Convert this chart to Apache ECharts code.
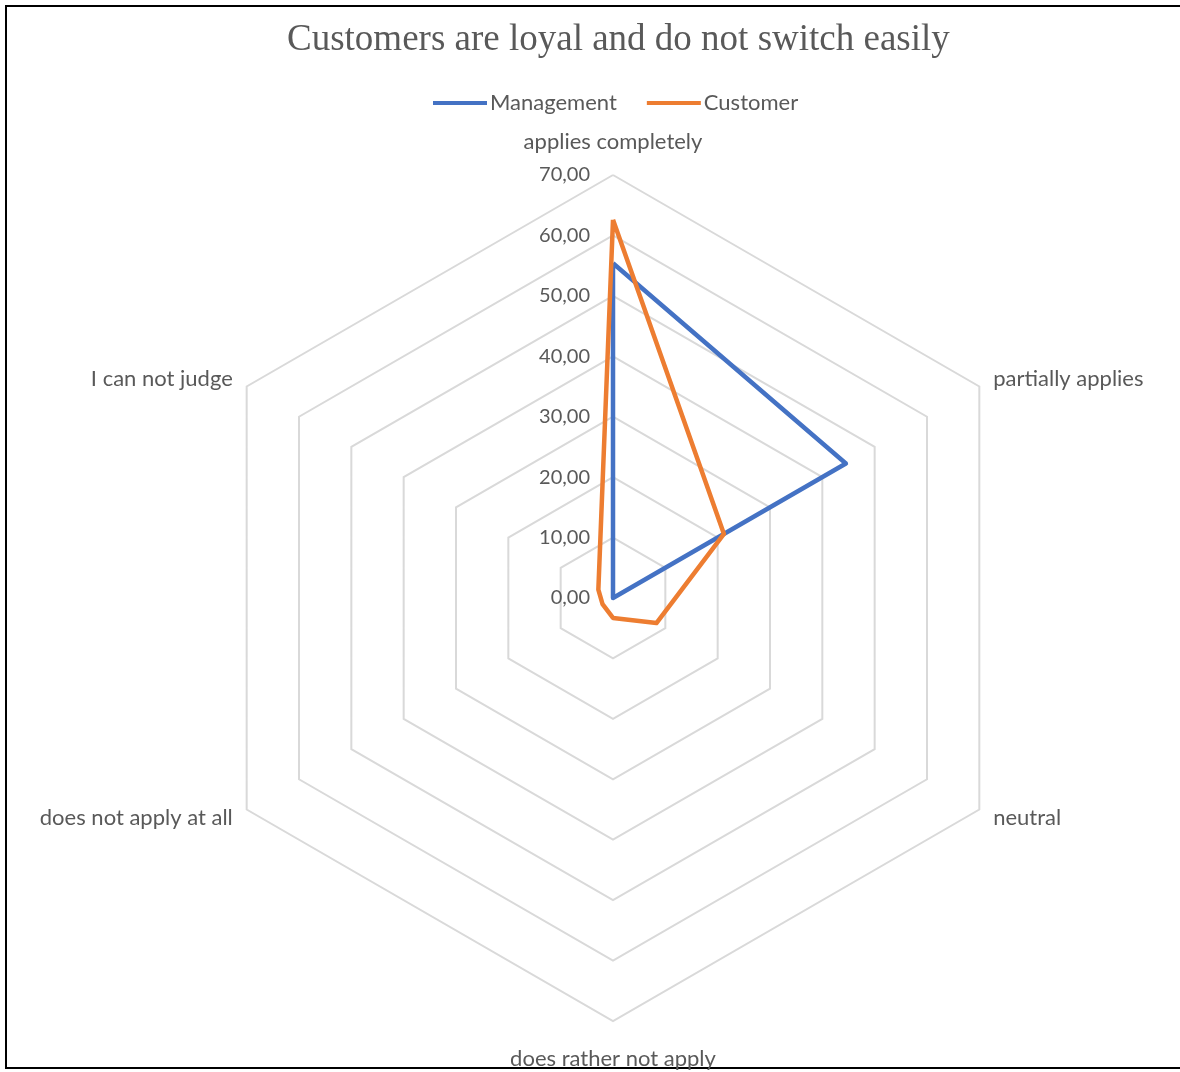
<!DOCTYPE html>
<html>
<head>
<meta charset="utf-8">
<script src="https://cdn.jsdelivr.net/npm/echarts@6/dist/echarts.min.js"></script>
<style>
  html, body { margin: 0; padding: 0; background: #fff; overflow: hidden; }
  #frame { position: absolute; left: 5px; top: 5px; width: 1200px; height: 1064px; border: 2px solid #000; box-sizing: border-box; }
  #chart { position: absolute; left: 0; top: 0; width: 1180px; height: 1072px; }
</style>
</head>
<body>
<div id="frame"></div>
<div id="chart"></div>
<script>
// order runs counter-clockwise from the top, as ECharts places radar axes
var categories = ['applies completely', 'I can not judge', 'does not apply at all', 'does rather not apply', 'neutral', 'partially applies'];
var management = [55.4, 0, 0, 0, 0, 44.5];
var customer = [62.6, 2.8, 2.0, 3.3, 8.3, 21.2];
var axisMax = 70;

var myChart = echarts.init(document.getElementById('chart'));

var option = {
  animation: false,
  title: {
    show: true,
    text: 'Customers are loyal and do not switch easily',
    left: 282,
    top: 17,
    textStyle: {
      color: '#595959',
      fontSize: 37,
      fontWeight: 'normal',
      fontFamily: 'Liberation Serif'
    }
  },
  legend: {
    top: 87,
    left: 428,
    itemWidth: 54,
    itemHeight: 4,
    itemGap: 30,
    icon: 'rect',
    textStyle: {
      color: '#595959',
      fontSize: 22,
      fontFamily: 'Lato',
      padding: [0, 0, 0, -2]
    },
    data: ['Management', 'Customer']
  },
  radar: {
    center: [613, 598],
    radius: 423,
    startAngle: 90,
    shape: 'polygon',
    splitNumber: 7,
    nameGap: 16,
    axisName: {
      color: '#595959',
      fontSize: 22,
      fontFamily: 'Lato'
    },
    axisLine: { show: false },
    splitArea: { show: false },
    splitLine: {
      lineStyle: { color: '#D9D9D9', width: 2 }
    },
    axisLabel: {
      show: true,
      color: '#595959',
      fontSize: 20,
      fontFamily: 'Lato',
      margin: 23,
      formatter: function (v) { return v.toFixed(2).replace('.', ','); }
    },
    indicator: categories.map(function (c, i) {
      var ind = { name: c, min: 0, max: axisMax };
      if (i > 0) ind.axisLabel = { show: false };
      if (i === 0) ind.nameGap = 22;
      if (i === 3) ind.nameGap = 27;
      return ind;
    })
  },
  series: [
    {
      type: 'radar',
      symbol: 'none',
      data: [
        {
          name: 'Management',
          value: management,
          itemStyle: { color: '#4472C4' },
          lineStyle: { color: '#4472C4', width: 4.5 }
        },
        {
          name: 'Customer',
          value: customer,
          itemStyle: { color: '#ED7D31' },
          lineStyle: { color: '#ED7D31', width: 4.5 }
        }
      ]
    }
  ]
};

myChart.setOption(option);
</script>
</body>
</html>
